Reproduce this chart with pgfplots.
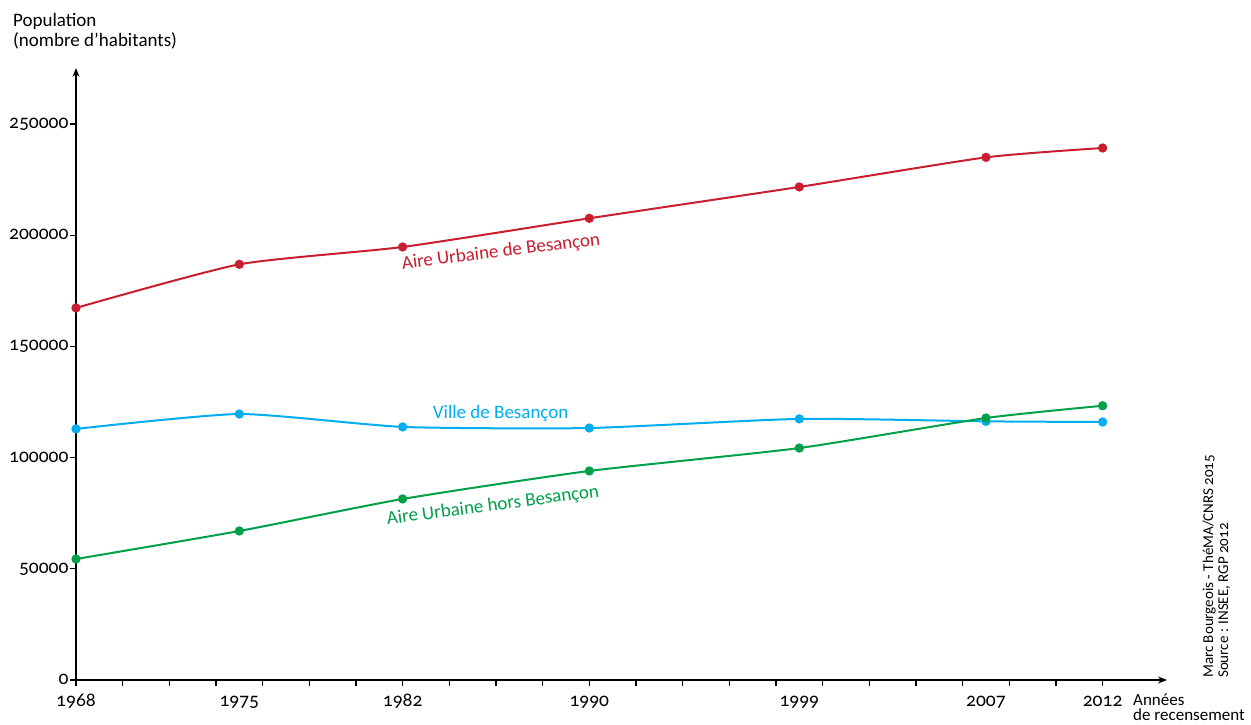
\documentclass[border=0pt]{standalone}
\usepackage{fontspec}
\setmainfont{Carlito}[Numbers=OldStyle]
\usepackage{pgfplots}
\pgfplotsset{compat=1.18}
\usetikzlibrary{arrows.meta}
\definecolor{cred}{RGB}{200,30,48}
\definecolor{cblue}{RGB}{0,174,239}
\definecolor{cgreen}{RGB}{0,160,75}
\begin{document}
\begin{tikzpicture}
\useasboundingbox (-76pt,-44pt) rectangle (1175pt,680pt);
\begin{axis}[
  at={(0pt,0pt)}, anchor=south west,
  scale only axis, width=1091pt, height=612pt,
  xmin=1968, xmax=2014.76, ymin=0, ymax=275180,
  axis lines=left,
  axis line style={line width=1.5pt, -{Stealth[length=9pt,width=7pt]}},
  tick align=outside,
  xtick={1968,1970,...,2012},
  xticklabels={},
  extra x ticks={1968,1975,1982,1990,1999,2007,2012},
  extra x tick labels={1968,1975,1982,1990,1999,2007,2012},
  extra x tick style={major tick length=0pt, xticklabel style={anchor=base, yshift=-26.5pt}},
  ytick={0,50000,100000,150000,200000,250000},
  yticklabels={0,50000,100000,150000,200000,250000},
  yticklabel style={anchor=base east, yshift=-4.5pt, xshift=2pt},
  major tick length=6pt,
  every tick/.style={black, line width=1.3pt},
  scaled y ticks=false,
  tick label style={font=\fontsize{19.5}{20}\selectfont},
  clip=false,
]
\addplot[cred, line width=2pt, smooth, tension=0.35, mark=*, mark size=3.6pt, mark options={solid, fill=cred}]
  coordinates {(1968,167300) (1975,186900) (1982,194700) (1990,207600) (1999,221700) (2007,235000) (2012,239200)};
\addplot[cblue, line width=2pt, smooth, tension=0.35, mark=*, mark size=3.6pt, mark options={solid, fill=cblue}]
  coordinates {(1968,112900) (1975,119600) (1982,113800) (1990,113300) (1999,117400) (2007,116300) (2012,116000)};
\addplot[cgreen, line width=2pt, smooth, tension=0.35, mark=*, mark size=3.6pt, mark options={solid, fill=cgreen}]
  coordinates {(1968,54400) (1975,67000) (1982,81400) (1990,94000) (1999,104300) (2007,117800) (2012,123300)};
\node[cred, rotate=7, anchor=base, font=\fontsize{19}{20}\selectfont] at (axis cs:1986.24,190200) {Aire Urbaine de Besançon};
\node[cblue, anchor=base, font=\fontsize{19}{20}\selectfont] at (axis cs:1986.2,117400) {Ville de Besançon};
\node[cgreen, rotate=7.5, anchor=base, font=\fontsize{19}{20}\selectfont] at (axis cs:1985.9,76100) {Aire Urbaine hors Besançon};
\end{axis}
\node[anchor=base west, inner sep=0, font=\fontsize{19}{20}\selectfont] at (-63pt,653.3pt) {Population};
\node[anchor=base west, inner sep=0, font=\fontsize{19}{20}\selectfont] at (-63pt,633.3pt) {(nombre d’habitants)};
\node[anchor=north west, inner sep=0, align=left, font=\fontsize{17}{15}\selectfont] at (1057pt,-14pt) {Années\\de recensement};
\node[rotate=90, anchor=base west, inner sep=0, font=\fontsize{15}{15}\selectfont] at (1137pt,2pt) {Marc Bourgeois - ThéMA/CNRS 2015};
\node[rotate=90, anchor=base west, inner sep=0, font=\fontsize{15}{15}\selectfont] at (1152pt,2pt) {Source : INSEE, RGP 2012};
\end{tikzpicture}
\end{document}
